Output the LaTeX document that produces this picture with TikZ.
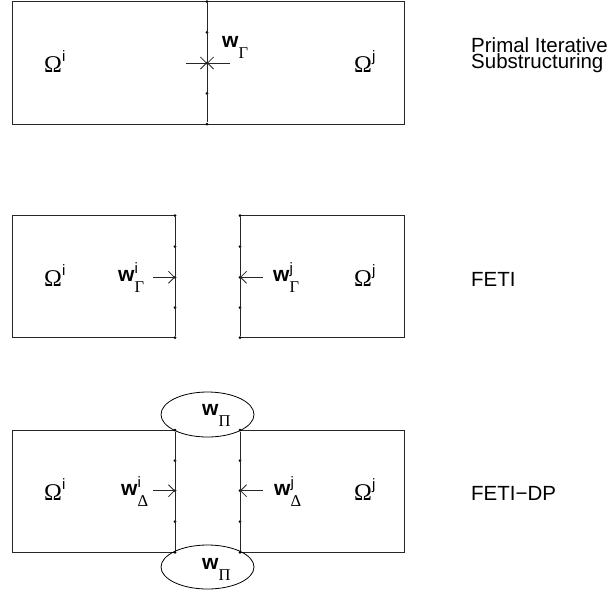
\documentclass[tikz,border=0pt]{standalone}
\usepackage{fontspec}
\setmainfont{Liberation Sans}
\newfontfamily\grk{Liberation Serif}
\usetikzlibrary{arrows.meta,shapes.geometric}
\newcommand\supfs{\fontsize{15}{15}\selectfont}
\newcommand\subfs{\grk\fontsize{16.5}{16.5}\selectfont}
\newcommand\wl[2]{{\fontsize{21}{21}\selectfont\bfseries w}\makebox[0pt][l]{\raisebox{7.5pt}{\supfs #1}}\raisebox{-11.5pt}{\subfs #2}}
\newcommand\om[1]{{\grk\fontsize{24}{24}\selectfont Ω}\raisebox{10.5pt}{\supfs #1}}
\tikzset{
  box/.style={draw=black!85,line width=0.9pt},
  iface/.style={draw=black!85,line width=0.9pt},
  lab/.style={inner sep=0pt,anchor=base west,font=\fontsize{20.5}{16.5}\selectfont},
  arr/.style={-{Straight Barb[length=6pt,width=12pt]},line width=0.8pt,draw=black!85},
  dotpt/.style={circle,fill=black,inner sep=0pt,minimum size=3pt},
  pell/.style={ellipse,draw=black,line width=0.8pt,minimum width=93pt,minimum height=45pt,inner sep=0pt}
}
\begin{document}
\begin{tikzpicture}[x=1pt,y=-1pt]
\useasboundingbox (0,0) rectangle (610,595);

% ---------- Row 1: primal ----------
\draw[box] (12,1.7) rectangle (404,124);
\foreach \y [count=\k] in {1.7,32.3,63,93.3,124}
  \node[dotpt] (t\k) at (207,\y) {};
\draw[iface] (t1) -- (t5);
\coordinate (tl) at (186,63);
\coordinate (tr) at (230,63);
\draw[arr] (tl) -- (t3.center);
\draw[arr] (tr) -- (t3.center);
\node[lab] (om1i) at (44,72) {\om{i}};
\node[lab] (om1j) at (354,72) {\om{j}};
\node[lab] (w1) at (222,47.3) {\wl{}{Γ}};
\node[lab,align=left] (t1txt) at (471,68.5) {Primal Iterative\\Substructuring};

% ---------- Row 2: FETI ----------
\draw[box] (175,215.7) -- (12,215.7) -- (12,337.7) -- (175,337.7);
\draw[box] (240,215.7) -- (404,215.7) -- (404,337.7) -- (240,337.7);
\foreach \y [count=\k] in {215.7,246.7,277.3,307.7,337.7}{
  \node[dotpt] (ml\k) at (175,\y) {};
  \node[dotpt] (mr\k) at (240,\y) {};
}
\draw[iface] (ml1) -- (ml5);
\draw[iface] (mr1) -- (mr5);
\coordinate (mla) at (153,277.3);
\coordinate (mra) at (263,277.3);
\draw[arr] (mla) -- (ml3.center);
\draw[arr] (mra) -- (mr3.center);
\node[lab] (om2i) at (44,286) {\om{i}};
\node[lab] (om2j) at (354,286) {\om{j}};
\node[lab] (w2i) at (118,281) {\wl{i}{Γ}};
\node[lab] (w2j) at (273,281) {\wl{j}{Γ}};
\node[lab] (t2txt) at (471,286) {FETI};

% ---------- Row 3: FETI-DP ----------
\draw[box] (175,430) -- (12,430) -- (12,552.3) -- (175,552.3);
\draw[box] (240,430) -- (404,430) -- (404,552.3) -- (240,552.3);
\foreach \y [count=\k] in {430,460.7,490.7,521.7,552.3}{
  \node[dotpt] (bl\k) at (175,\y) {};
  \node[dotpt] (br\k) at (240,\y) {};
}
\draw[iface] (bl1) -- (bl5);
\draw[iface] (br1) -- (br5);
\coordinate (bla) at (153,490.7);
\coordinate (bra) at (263,490.7);
\draw[arr] (bla) -- (bl3.center);
\draw[arr] (bra) -- (br3.center);
\node[pell] (pt) at (207.5,414.5) {};
\node[pell,minimum height=44pt] (pb) at (207.5,567) {};
\node[lab] (wpt) at (202,415) {\wl{}{Π}};
\node[lab] (wpb) at (202,569) {\wl{}{Π}};
\node[lab] (om3i) at (44,500) {\om{i}};
\node[lab] (om3j) at (354,500) {\om{j}};
\node[lab] (w3i) at (121,495) {\wl{i}{Δ}};
\node[lab] (w3j) at (274,495) {\wl{j}{Δ}};
\node[lab] (t3txt) at (471,500) {FETI−DP};
\end{tikzpicture}
\end{document}
